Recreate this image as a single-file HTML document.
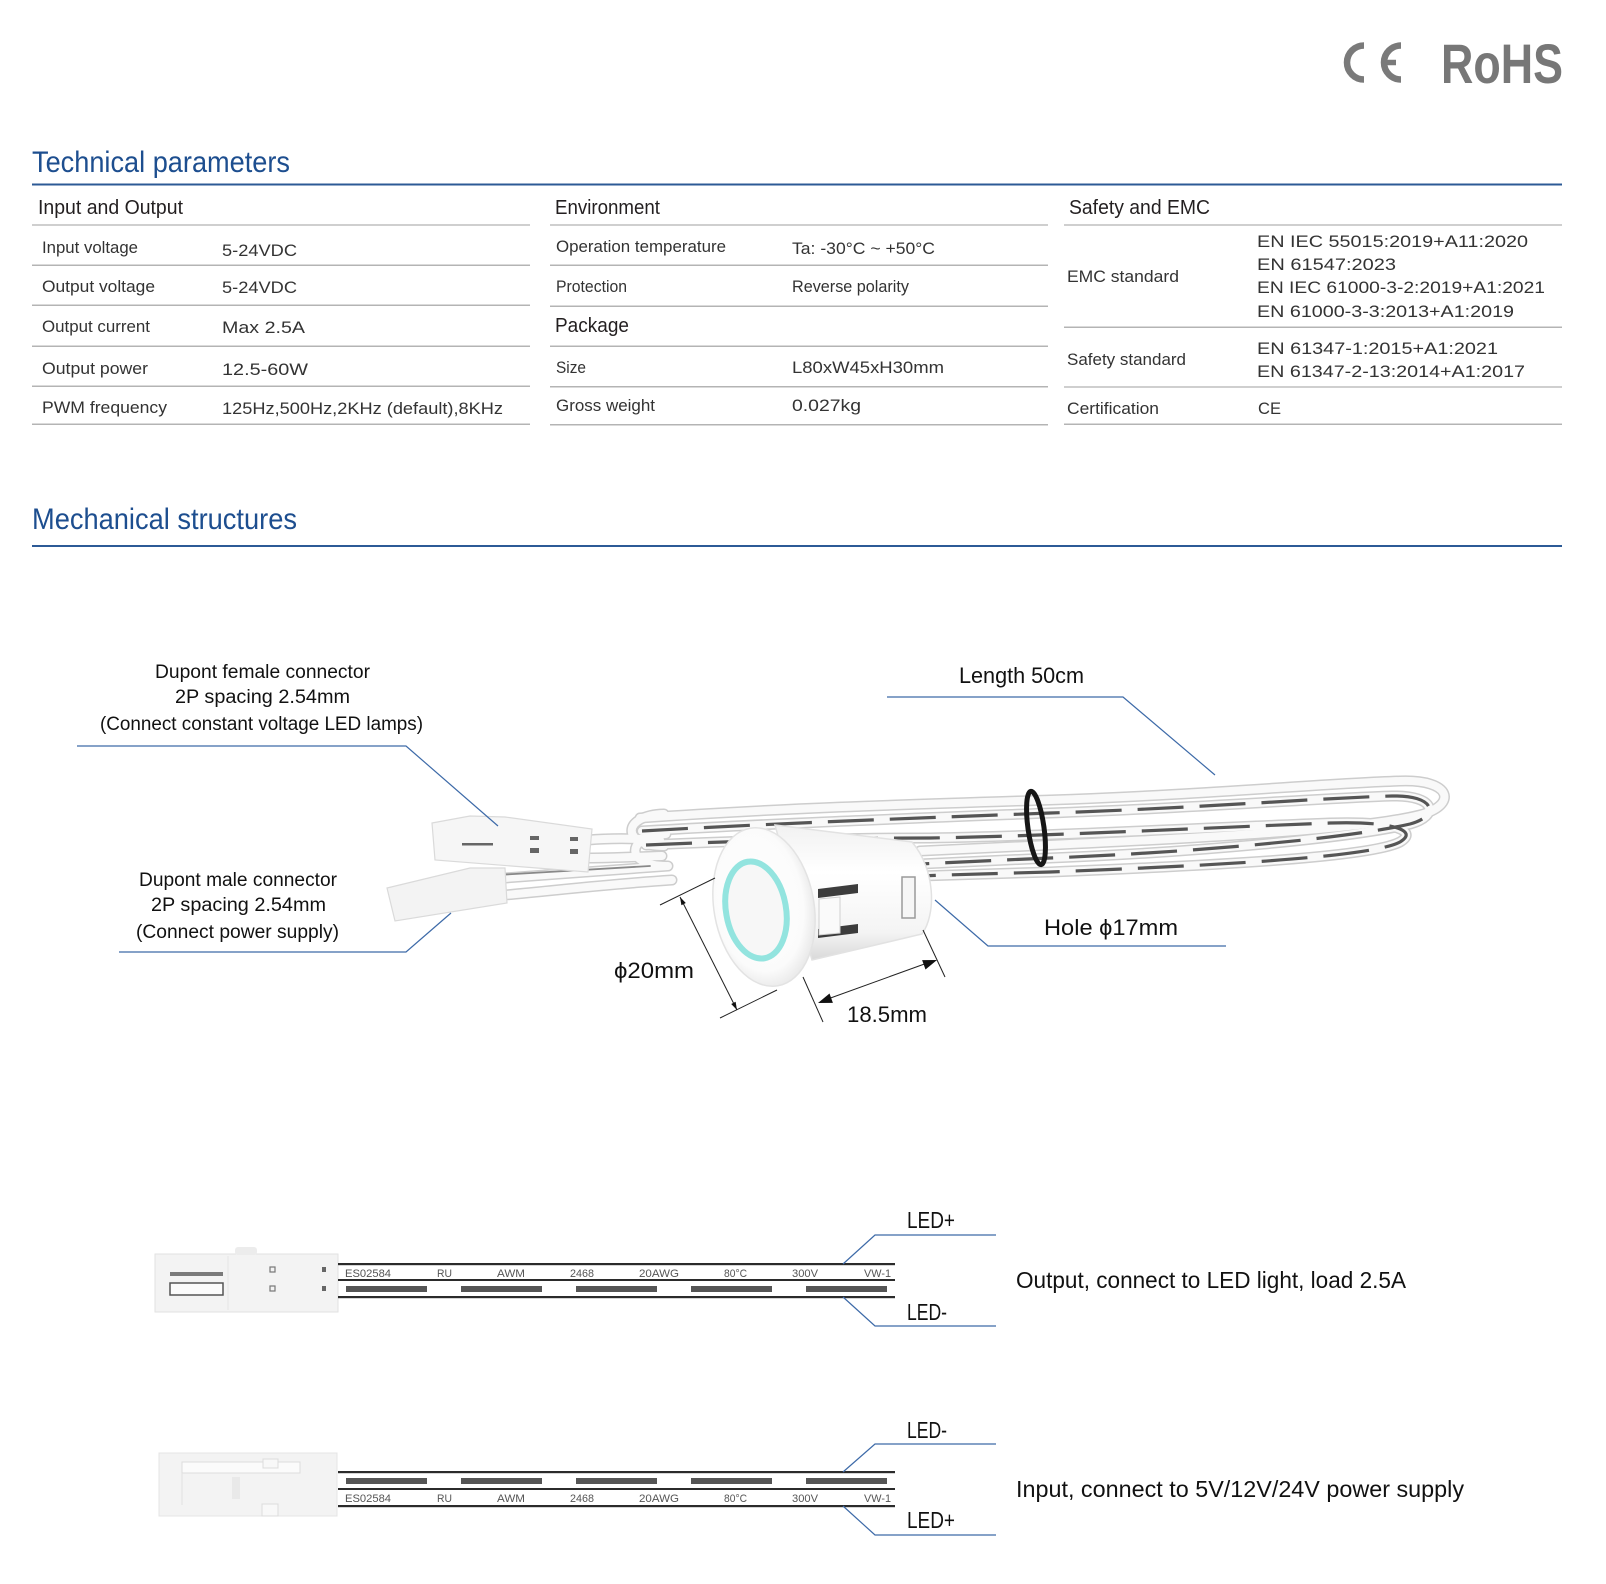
<!DOCTYPE html>
<html><head><meta charset="utf-8">
<style>html,body{margin:0;padding:0;background:#fff;}svg{display:block}</style>
</head><body>
<svg width="1606" height="1584" viewBox="0 0 1606 1584" xmlns="http://www.w3.org/2000/svg" font-family="'Liberation Sans', 'DejaVu Sans', sans-serif">
<defs>
  <radialGradient id="faceG" cx="0.45" cy="0.45" r="0.6">
    <stop offset="0" stop-color="#ffffff"/><stop offset="0.75" stop-color="#fbfbfb"/><stop offset="1" stop-color="#e4e4e4"/>
  </radialGradient>
  <linearGradient id="bodyG" x1="0" y1="0" x2="0" y2="1">
    <stop offset="0" stop-color="#f1f1f1"/><stop offset="0.35" stop-color="#ffffff"/><stop offset="0.8" stop-color="#f4f4f4"/><stop offset="1" stop-color="#d9d9d9"/>
  </linearGradient>
  <path id="s1" d="M 640 818 C 780 808, 920 804, 1050 800 C 1200 795, 1330 783, 1400 781 C 1452 779, 1458 805, 1420 815 C 1360 830, 1200 838, 1050 845 C 980 848, 940 850, 920 851"/>
  <path id="s2" d="M 642 831 C 780 823, 920 818, 1050 813 C 1200 808, 1320 798, 1392 796 C 1436 795, 1440 816, 1410 824 C 1350 838, 1200 852, 1050 858 C 980 861, 940 863, 920 864"/>
  <path id="s3" d="M 646 845 C 760 840, 860 838, 930 838 C 1050 836, 1200 828, 1330 823 C 1390 821, 1420 830, 1400 842 C 1370 858, 1200 866, 1050 872 C 980 874, 940 875, 920 876"/>
  <path id="c1" d="M 664 814 C 622 815, 620 846, 664 846"/>
  <path id="c2" d="M 666 834 C 626 835, 624 866, 666 866"/>
  <path id="w1" d="M 588 840 C 610 838, 630 838, 660 840"/>
  <path id="w2" d="M 588 858 C 610 858, 630 857, 662 856"/>
  <path id="w3" d="M 505 878 C 560 874, 610 870, 668 866"/>
  <path id="w4" d="M 505 895 C 560 890, 610 884, 672 880"/>
</defs>

<!-- CE RoHS -->
<g fill="none" stroke="#7a7a7a" stroke-width="6.5">
  <path d="M 1364 45.5 A 17 17 0 1 0 1364 79.5"/>
  <path d="M 1401 45.5 A 17 17 0 1 0 1401 79.5"/>
  <line x1="1381" y1="62.5" x2="1396" y2="62.5" stroke-width="5.5"/>
</g>
<text x="1441" y="83" font-size="56" font-weight="bold" fill="#777" textLength="122" lengthAdjust="spacingAndGlyphs">RoHS</text>

<!-- Technical parameters -->
<text x="32" y="172" font-size="30" fill="#1d4e8f" textLength="258" lengthAdjust="spacingAndGlyphs">Technical parameters</text>
<rect x="32" y="183.5" width="1530" height="2" fill="#2c5a96"/>

<g fill="#231f20">
  <text x="38" y="214" font-size="20" textLength="145" lengthAdjust="spacingAndGlyphs">Input and Output</text>
  <text x="555" y="214" font-size="20" textLength="105" lengthAdjust="spacingAndGlyphs">Environment</text>
  <text x="1069" y="214" font-size="20" textLength="141" lengthAdjust="spacingAndGlyphs">Safety and EMC</text>
  <text x="555" y="332" font-size="20" textLength="74" lengthAdjust="spacingAndGlyphs">Package</text>
</g>
<g fill="#333" font-size="17">
  <text x="42" y="253" textLength="96" lengthAdjust="spacingAndGlyphs">Input voltage</text>
  <text x="222" y="256" textLength="75" lengthAdjust="spacingAndGlyphs">5-24VDC</text>
  <text x="42" y="292" textLength="113" lengthAdjust="spacingAndGlyphs">Output voltage</text>
  <text x="222" y="293" textLength="75" lengthAdjust="spacingAndGlyphs">5-24VDC</text>
  <text x="42" y="332" textLength="108" lengthAdjust="spacingAndGlyphs">Output current</text>
  <text x="222" y="333" textLength="83" lengthAdjust="spacingAndGlyphs">Max 2.5A</text>
  <text x="42" y="374" textLength="106" lengthAdjust="spacingAndGlyphs">Output power</text>
  <text x="222" y="375" textLength="86" lengthAdjust="spacingAndGlyphs">12.5-60W</text>
  <text x="42" y="413" textLength="125" lengthAdjust="spacingAndGlyphs">PWM frequency</text>
  <text x="222" y="414" textLength="281" lengthAdjust="spacingAndGlyphs">125Hz,500Hz,2KHz (default),8KHz</text>

  <text x="556" y="252" textLength="170" lengthAdjust="spacingAndGlyphs">Operation temperature</text>
  <text x="792" y="254" textLength="143" lengthAdjust="spacingAndGlyphs">Ta: -30°C ~ +50°C</text>
  <text x="556" y="292" textLength="71" lengthAdjust="spacingAndGlyphs">Protection</text>
  <text x="792" y="292" textLength="117" lengthAdjust="spacingAndGlyphs">Reverse polarity</text>
  <text x="556" y="373" textLength="30" lengthAdjust="spacingAndGlyphs">Size</text>
  <text x="792" y="373" textLength="152" lengthAdjust="spacingAndGlyphs">L80xW45xH30mm</text>
  <text x="556" y="411" textLength="99" lengthAdjust="spacingAndGlyphs">Gross weight</text>
  <text x="792" y="411" textLength="69" lengthAdjust="spacingAndGlyphs">0.027kg</text>

  <text x="1067" y="282" textLength="112" lengthAdjust="spacingAndGlyphs">EMC standard</text>
  <text x="1257" y="247" textLength="271" lengthAdjust="spacingAndGlyphs">EN IEC 55015:2019+A11:2020</text>
  <text x="1257" y="270" textLength="139" lengthAdjust="spacingAndGlyphs">EN 61547:2023</text>
  <text x="1257" y="293" textLength="288" lengthAdjust="spacingAndGlyphs">EN IEC 61000-3-2:2019+A1:2021</text>
  <text x="1257" y="317" textLength="257" lengthAdjust="spacingAndGlyphs">EN 61000-3-3:2013+A1:2019</text>
  <text x="1067" y="365" textLength="119" lengthAdjust="spacingAndGlyphs">Safety standard</text>
  <text x="1257" y="354" textLength="241" lengthAdjust="spacingAndGlyphs">EN 61347-1:2015+A1:2021</text>
  <text x="1257" y="377" textLength="268" lengthAdjust="spacingAndGlyphs">EN 61347-2-13:2014+A1:2017</text>
  <text x="1067" y="414" textLength="92" lengthAdjust="spacingAndGlyphs">Certification</text>
  <text x="1258" y="414" textLength="23" lengthAdjust="spacingAndGlyphs">CE</text>
</g>
<g fill="#b4b4b4">
  <rect x="32" y="224" width="498" height="2" fill="#cfcfcf"/>
  <rect x="32" y="264.5" width="498" height="1.5"/>
  <rect x="32" y="304.5" width="498" height="1.5"/>
  <rect x="32" y="345.5" width="498" height="1.5"/>
  <rect x="32" y="385.5" width="498" height="1.5"/>
  <rect x="32" y="423.5" width="498" height="1.5"/>

  <rect x="550" y="224" width="498" height="2" fill="#cfcfcf"/>
  <rect x="550" y="264.5" width="498" height="1.5"/>
  <rect x="550" y="305.5" width="498" height="1.5"/>
  <rect x="550" y="345.5" width="498" height="1.5"/>
  <rect x="550" y="386" width="498" height="1.5"/>
  <rect x="550" y="424" width="498" height="1.5"/>

  <rect x="1064" y="224" width="498" height="2" fill="#cfcfcf"/>
  <rect x="1064" y="326.5" width="498" height="1.5"/>
  <rect x="1064" y="386" width="498" height="2" fill="#cfcfcf"/>
  <rect x="1064" y="423.5" width="498" height="1.5"/>
</g>

<!-- Mechanical structures -->
<text x="32" y="529" font-size="30" fill="#1d4e8f" textLength="265" lengthAdjust="spacingAndGlyphs">Mechanical structures</text>
<rect x="32" y="545" width="1530" height="2" fill="#2c5a96"/>

<!-- cables -->
<g fill="none" stroke-linecap="round">
  <g stroke="#cdcdcd" stroke-width="11">
    <use href="#s3"/><use href="#s2"/><use href="#s1"/><use href="#c1"/><use href="#c2"/>
    <use href="#w1"/><use href="#w2"/><use href="#w3"/><use href="#w4"/>
  </g>
  <g stroke="#f9f9f9" stroke-width="8">
    <use href="#s3"/><use href="#s2"/><use href="#s1"/><use href="#c1"/><use href="#c2"/>
    <use href="#w1"/><use href="#w2"/><use href="#w3"/><use href="#w4"/>
  </g>
  <g stroke="#555" stroke-width="3.2" stroke-dasharray="46 16" stroke-linecap="butt">
    <use href="#s2"/><use href="#s3"/>
  </g>
  <path d="M 497 875 L 650 866" stroke="#888" stroke-width="1.8"/>
</g>
<ellipse cx="1036" cy="828" rx="8" ry="37" transform="rotate(-8 1036 828)" fill="none" stroke="#161616" stroke-width="5"/>

<!-- connectors -->
<g stroke="#dadada" stroke-width="1.2">
  <polygon points="432,823 470,816 505,817 592,829 588,872 435,860" fill="#f6f6f6"/>
  <polygon points="387,888 470,868 505,868 507,903 395,921" fill="#f3f3f3"/>
</g>
<g fill="#666">
  <rect x="462" y="843" width="31" height="2.5"/>
  <rect x="530" y="836" width="9" height="4"/>
  <rect x="530" y="848" width="9" height="5"/>
  <rect x="570" y="837" width="8" height="4"/>
  <rect x="570" y="849" width="8" height="5"/>
</g>

<!-- sensor -->
<path d="M 775 825 L 912 842 C 936 870, 936 915, 922 934 L 812 960 Z" fill="url(#bodyG)" stroke="#e2e2e2" stroke-width="1.5"/>
<polygon points="818,889 858,884 858,893 818,898" fill="#3c3c3c"/>
<polygon points="818,929 858,924 858,933 818,938" fill="#3c3c3c"/>
<polygon points="819,899 840,897 840,933 819,935" fill="#fafafa" stroke="#d0d0d0" stroke-width="1"/>
<rect x="902" y="877" width="13" height="41" fill="#f6f6f6" stroke="#9a9a9a" stroke-width="1.5"/>
<ellipse cx="764" cy="907" rx="50" ry="80" transform="rotate(-10 764 907)" fill="url(#faceG)" stroke="#e3e3e3" stroke-width="1.5"/>
<ellipse cx="756" cy="910" rx="30" ry="49" transform="rotate(-10 756 910)" fill="#f7f7f7" stroke="#93e4df" stroke-width="6"/>

<!-- dimension lines -->
<g stroke="#222" stroke-width="1" fill="none">
  <line x1="660" y1="905" x2="715" y2="878"/>
  <line x1="720" y1="1018" x2="777" y2="990"/>
  <line x1="680" y1="897" x2="737" y2="1010"/>
  <line x1="803" y1="977" x2="823" y2="1022"/>
  <line x1="923" y1="930" x2="945" y2="977"/>
  <line x1="825" y1="1000" x2="930" y2="962"/>
</g>
<g fill="#111">
  <polygon points="680,897 685.8,903 681.4,905.2"/>
  <polygon points="737,1010 735.6,1001.8 731.2,1004"/>
  <polygon points="937,960 925.5,969.5 922.1,960.1"/>
  <polygon points="818,1003 832.9,1002.9 829.5,993.5"/>
</g>

<!-- leader lines -->
<g stroke="#3d6aa8" stroke-width="1.2" fill="none">
  <polyline points="77,746 406,746 498,826"/>
  <polyline points="887,697 1123,697 1215,775"/>
  <polyline points="119,952 406,952 451,913"/>
  <polyline points="935,900 988,946 1226,946"/>
</g>

<!-- diagram labels -->
<g fill="#111">
  <text x="155" y="678" font-size="19" textLength="215" lengthAdjust="spacingAndGlyphs">Dupont female connector</text>
  <text x="175" y="703" font-size="19" textLength="175" lengthAdjust="spacingAndGlyphs">2P spacing 2.54mm</text>
  <text x="100" y="730" font-size="19" textLength="323" lengthAdjust="spacingAndGlyphs">(Connect constant voltage LED lamps)</text>
  <text x="959" y="683" font-size="22" textLength="125" lengthAdjust="spacingAndGlyphs">Length 50cm</text>
  <text x="139" y="886" font-size="19" textLength="198" lengthAdjust="spacingAndGlyphs">Dupont male connector</text>
  <text x="151" y="911" font-size="19" textLength="175" lengthAdjust="spacingAndGlyphs">2P spacing 2.54mm</text>
  <text x="136" y="938" font-size="19" textLength="203" lengthAdjust="spacingAndGlyphs">(Connect power supply)</text>
  <text x="1044" y="935" font-size="22" textLength="134" lengthAdjust="spacingAndGlyphs">Hole ϕ17mm</text>
  <text x="614" y="978" font-size="22" textLength="80" lengthAdjust="spacingAndGlyphs">ϕ20mm</text>
  <text x="847" y="1022" font-size="22" textLength="80" lengthAdjust="spacingAndGlyphs">18.5mm</text>
</g>

<!-- bottom wire 1 (output) -->
<rect x="155" y="1254" width="183" height="58" fill="#f3f3f3" stroke="#e2e2e2"/>
<rect x="235" y="1247" width="22" height="8" rx="3" fill="#ececec"/>
<line x1="228" y1="1256" x2="228" y2="1310" stroke="#e4e4e4"/>
<rect x="170" y="1272" width="53" height="4" fill="#7a7a7a"/>
<rect x="170" y="1283" width="53" height="12" fill="#fbfbfb" stroke="#555" stroke-width="1.5"/>
<g fill="none" stroke="#777" stroke-width="1.2">
  <rect x="270" y="1267" width="5" height="5"/><rect x="270" y="1286" width="5" height="5"/>
</g>
<g fill="#666"><rect x="322" y="1267" width="4" height="5"/><rect x="322" y="1286" width="4" height="5"/></g>
<g fill="#2b2b2b">
  <rect x="338" y="1263" width="557" height="2.2"/>
  <rect x="338" y="1279" width="557" height="2"/>
  <rect x="338" y="1296" width="557" height="2.2"/>
</g>
<g fill="#555">
  <rect x="346" y="1286" width="81" height="6"/><rect x="461" y="1286" width="81" height="6"/>
  <rect x="576" y="1286" width="81" height="6"/><rect x="691" y="1286" width="81" height="6"/>
  <rect x="806" y="1286" width="81" height="6"/>
</g>
<g fill="#555" font-size="11">
  <text x="345" y="1277" textLength="46" lengthAdjust="spacingAndGlyphs">ES02584</text>
  <text x="437" y="1277" textLength="15" lengthAdjust="spacingAndGlyphs">RU</text>
  <text x="497" y="1277" textLength="28" lengthAdjust="spacingAndGlyphs">AWM</text>
  <text x="570" y="1277" textLength="24" lengthAdjust="spacingAndGlyphs">2468</text>
  <text x="639" y="1277" textLength="40" lengthAdjust="spacingAndGlyphs">20AWG</text>
  <text x="724" y="1277" textLength="23" lengthAdjust="spacingAndGlyphs">80°C</text>
  <text x="792" y="1277" textLength="26" lengthAdjust="spacingAndGlyphs">300V</text>
  <text x="864" y="1277" textLength="27" lengthAdjust="spacingAndGlyphs">VW-1</text>
</g>

<!-- bottom wire 2 (input) -->
<rect x="159" y="1453" width="178" height="63" fill="#f3f3f3" stroke="#e4e4e4"/>
<rect x="182" y="1462" width="118" height="11" fill="#fbfbfb" stroke="#dcdcdc"/>
<rect x="263" y="1459" width="15" height="9" fill="#f8f8f8" stroke="#dcdcdc"/>
<rect x="262" y="1504" width="16" height="12" fill="#f8f8f8" stroke="#dcdcdc"/>
<rect x="232" y="1477" width="8" height="22" fill="#e9e9e9"/>
<line x1="182" y1="1473" x2="182" y2="1505" stroke="#e2e2e2"/>
<g fill="#2b2b2b">
  <rect x="338" y="1471" width="557" height="2.2"/>
  <rect x="338" y="1488" width="557" height="2"/>
  <rect x="338" y="1505" width="557" height="2.2"/>
</g>
<g fill="#555">
  <rect x="346" y="1478" width="81" height="6"/><rect x="461" y="1478" width="81" height="6"/>
  <rect x="576" y="1478" width="81" height="6"/><rect x="691" y="1478" width="81" height="6"/>
  <rect x="806" y="1478" width="81" height="6"/>
</g>
<g fill="#555" font-size="11">
  <text x="345" y="1502" textLength="46" lengthAdjust="spacingAndGlyphs">ES02584</text>
  <text x="437" y="1502" textLength="15" lengthAdjust="spacingAndGlyphs">RU</text>
  <text x="497" y="1502" textLength="28" lengthAdjust="spacingAndGlyphs">AWM</text>
  <text x="570" y="1502" textLength="24" lengthAdjust="spacingAndGlyphs">2468</text>
  <text x="639" y="1502" textLength="40" lengthAdjust="spacingAndGlyphs">20AWG</text>
  <text x="724" y="1502" textLength="23" lengthAdjust="spacingAndGlyphs">80°C</text>
  <text x="792" y="1502" textLength="26" lengthAdjust="spacingAndGlyphs">300V</text>
  <text x="864" y="1502" textLength="27" lengthAdjust="spacingAndGlyphs">VW-1</text>
</g>

<!-- LED leaders -->
<g stroke="#3d6aa8" stroke-width="1.2" fill="none">
  <polyline points="843,1264 875,1235 996,1235"/>
  <polyline points="843,1297 875,1326 996,1326"/>
  <polyline points="843,1472 875,1444 996,1444"/>
  <polyline points="843,1506 875,1535 996,1535"/>
</g>
<g fill="#111" font-size="23">
  <text x="907" y="1228" textLength="48" lengthAdjust="spacingAndGlyphs">LED+</text>
  <text x="907" y="1320" textLength="40" lengthAdjust="spacingAndGlyphs">LED-</text>
  <text x="907" y="1438" textLength="40" lengthAdjust="spacingAndGlyphs">LED-</text>
  <text x="907" y="1528" textLength="48" lengthAdjust="spacingAndGlyphs">LED+</text>
  <text x="1016" y="1288" textLength="390" lengthAdjust="spacingAndGlyphs">Output, connect to LED light, load 2.5A</text>
  <text x="1016" y="1497" textLength="448" lengthAdjust="spacingAndGlyphs">Input, connect to 5V/12V/24V power supply</text>
</g>
</svg>
</body></html>
